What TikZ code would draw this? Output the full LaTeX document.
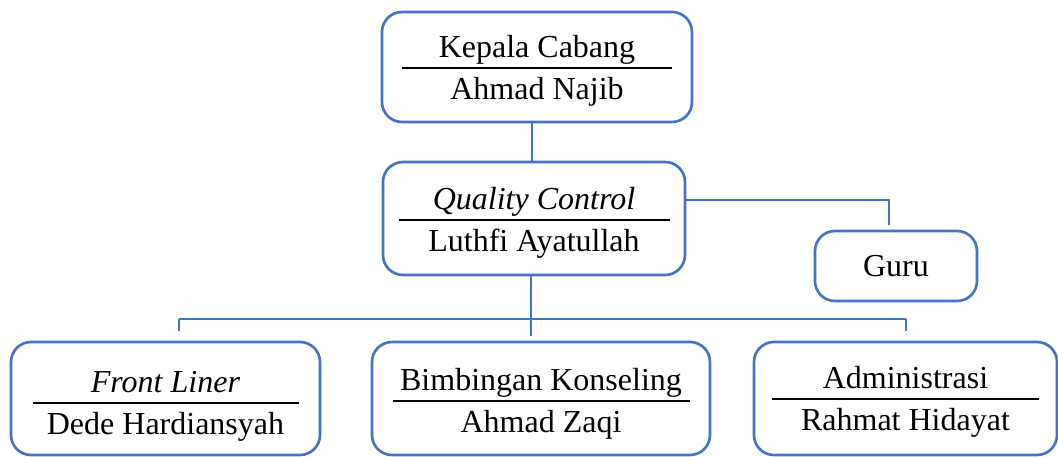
\documentclass[tikz,border=0pt]{standalone}
\usepackage{fontspec}
\setmainfont{Liberation Serif}
\usetikzlibrary{positioning,calc}
\definecolor{OB}{HTML}{4472C4}

\begin{document}
\begin{tikzpicture}[x=0.75pt, y=-0.75pt,
    unitbox/.style={draw=OB, line width=2pt, rounded corners=15pt,
                    inner sep=0pt, minimum height=84.75pt},
    role/.style={font=\fontsize{24}{28}\selectfont, inner sep=0pt, anchor=base},
    link/.style={draw=OB, line width=0.8pt}]

        \useasboundingbox (0,0) rectangle (1058,457);

        %% ── boxes ─────────────────────────────────────

        \node[unitbox, minimum width=232.5pt, minimum height=82.5pt] (kc) at (537,67) {};
        \node[unitbox, minimum width=226.5pt] (qc) at (534,218.5) {};
        \node[unitbox, minimum width=121.5pt, minimum height=52.5pt,
              font=\fontsize{24}{28}\selectfont] (guru) at (896,266) {Guru};
        \node[unitbox, minimum width=231.75pt] (fl) at (165.5,398.5) {};
        \node[unitbox, minimum width=253.5pt] (bk) at (541,398.5) {};
        \node[unitbox, minimum width=227.25pt] (adm) at (905.5,398.5) {};

        %% ── title, rule and name inside each box ──────

        \foreach \b/\hw/\dy/\upper/\lower in {
            kc/135/1/{Kepala Cabang}/{Ahmad Najib},
            qc/135.5/1.5/{\textit{Quality Control}}/{Luthfi Ayatullah},
            fl/133/4.5/{\textit{Front Liner}}/{Dede Hardiansyah},
            bk/148.5/2.5/{Bimbingan Konseling}/{Ahmad Zaqi},
            adm/133.5/0.5/{Administrasi}/{Rahmat Hidayat}}{
          \draw[black, line width=1.5pt]
            ($(\b)+(-\hw,\dy)$) -- ($(\b)+(\hw,\dy)$);
          \node[role] (\b-up) at ($(\b)+(0,\dy-11)$) {\upper};
          \node[role] (\b-low) at ($(\b)+(0,\dy+31)$) {\lower};
        }

        %% ── connectors ────────────────────────────────

        \coordinate (guruIn) at (889,225);
        \coordinate (busL) at (179,319);
        \coordinate (busR) at (906,319);
        \coordinate (busM) at (531,336);

        \draw[link] ($(kc.south)+(-5,0)$) -- ($(qc.north)+(-2,0)$);
        \draw[link] ($(qc.east)+(0,-18.5)$) -| (guruIn);
        \draw[link] ($(qc.south)+(-3,0)$) -- (busM);
        \draw[link] (busL) -- (busR);
        \draw[link] (busL) -- ++(0,12);
        \draw[link] (busR) -- ++(0,12);

      \end{tikzpicture}
\end{document}
